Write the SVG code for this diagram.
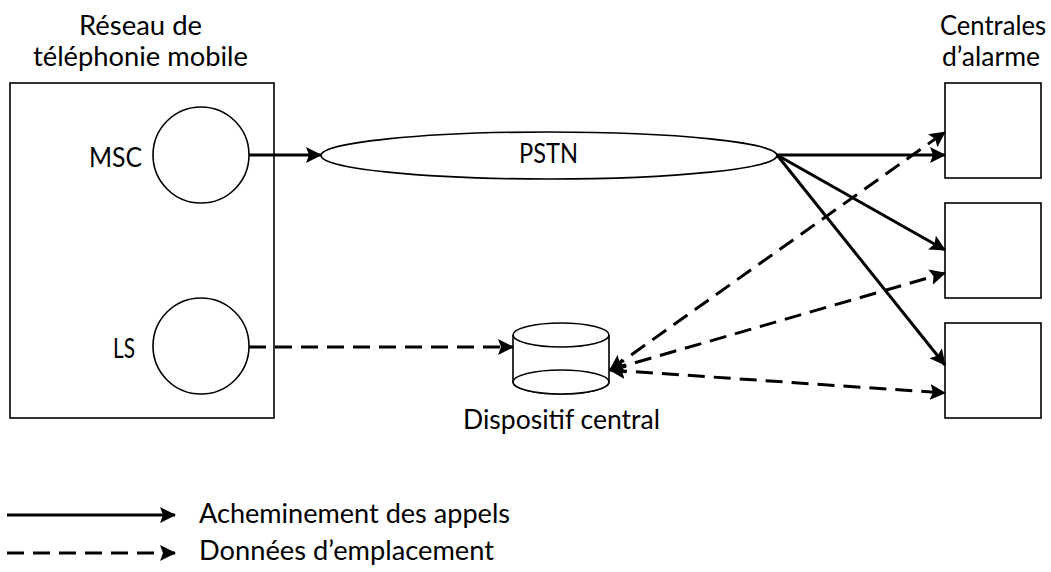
<svg xmlns="http://www.w3.org/2000/svg" width="1051" height="572" viewBox="0 0 1051 572">
<style>
text{font-family:Lato,"Liberation Sans",Arial,sans-serif;font-size:26px;fill:#000}
.shape{fill:#fff;stroke:#000;stroke-width:1.6}
.solid{fill:none;stroke:#000;stroke-width:3;marker-end:url(#ah)}
.dash{fill:none;stroke:#000;stroke-width:3;stroke-dasharray:17 9;marker-end:url(#ah)}
.bi{marker-start:url(#ah)}
</style>
<defs>
<marker id="ah" markerUnits="userSpaceOnUse" markerWidth="16" markerHeight="16" viewBox="0 0 16 16" refX="15" refY="8" orient="auto-start-reverse">
<path d="M0,0 L16,8 L0,16 L3,8 z" fill="#000"/>
</marker>
</defs>
<rect width="1051" height="572" fill="#fff"/>
<g id="mobile-network">
<rect class="shape" x="10" y="83" width="264" height="335"/>
<text x="79" y="35" textLength="123" lengthAdjust="spacingAndGlyphs">Réseau de</text>
<text x="33" y="66" textLength="215" lengthAdjust="spacingAndGlyphs">téléphonie mobile</text>
</g>
<g id="msc">
<circle class="shape" cx="201" cy="155" r="48"/>
<text x="89" y="167" textLength="53" lengthAdjust="spacingAndGlyphs">MSC</text>
</g>
<g id="ls">
<circle class="shape" cx="201" cy="346" r="48"/>
<text x="113" y="358" textLength="22" lengthAdjust="spacingAndGlyphs">LS</text>
</g>
<g id="pstn">
<ellipse class="shape" cx="549" cy="155.5" rx="228" ry="23.5"/>
<text x="519" y="163" textLength="59" lengthAdjust="spacingAndGlyphs">PSTN</text>
</g>
<g id="central-device">
<path class="shape" d="M513,335 L513,382 A48,12 0 0 0 609,382 L609,335"/>
<ellipse class="shape" cx="561" cy="382" rx="48" ry="12"/>
<ellipse class="shape" cx="561" cy="335" rx="48" ry="12"/>
<text x="463" y="429" textLength="197" lengthAdjust="spacingAndGlyphs">Dispositif central</text>
</g>
<g id="alarm-centers">
<rect class="shape" x="945" y="83" width="96" height="95"/>
<rect class="shape" x="945" y="203" width="96" height="95"/>
<rect class="shape" x="945" y="323" width="96" height="95"/>
<text x="940" y="35" textLength="106" lengthAdjust="spacingAndGlyphs">Centrales</text>
<text x="942" y="66" textLength="98" lengthAdjust="spacingAndGlyphs">d’alarme</text>
</g>
<g id="connectors">
<path class="solid" d="M249,155 L321,155"/>
<path class="dash" d="M249,347 L513,347"/>
<path class="solid" d="M777,155 L945,155"/>
<path class="solid" d="M777,155 L945,250"/>
<path class="solid" d="M777,155 L945,365"/>
<path class="dash bi" d="M610,370 L945,132"/>
<path class="dash bi" d="M610,370 L945,273"/>
<path class="dash bi" d="M610,370 L945,393"/>
</g>
<g id="legend">
<path class="solid" d="M7,515 L175,515"/>
<path class="dash" d="M7,553 L175,553"/>
<text x="199" y="523" textLength="311" lengthAdjust="spacingAndGlyphs">Acheminement des appels</text>
<text x="199" y="560" textLength="295" lengthAdjust="spacingAndGlyphs">Données d’emplacement</text>
</g>
</svg>
